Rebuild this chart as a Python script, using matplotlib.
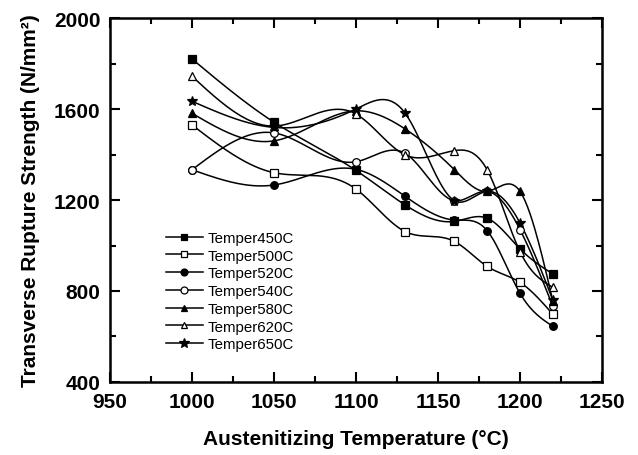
import numpy as np
import matplotlib.pyplot as plt
from matplotlib.ticker import MultipleLocator

plt.rcParams['font.family'] = ['Liberation Sans', 'DejaVu Sans']

temps = [1000, 1050, 1100, 1130, 1160, 1180, 1200, 1220]

t450 = [1820, 1542, 1330, 1178, 1106, 1120, 985, 875]
t500 = [1530, 1320, 1248, 1061, 1018, 908, 838, 698]
t520 = [1333, 1266, 1335, 1216, 1112, 1065, 790, 645]
t540 = [1333, 1495, 1368, 1405, 1197, 1238, 1070, 733]
t580 = [1581, 1460, 1592, 1512, 1333, 1238, 1238, 757]
t620 = [1744, 1525, 1578, 1398, 1417, 1332, 973, 816]
t650 = [1634, 1519, 1600, 1581, 1197, 1238, 1099, 760]

labels = ['Temper450C', 'Temper500C', 'Temper520C', 'Temper540C',
          'Temper580C', 'Temper620C', 'Temper650C']
series = [t450, t500, t520, t540, t580, t620, t650]
markers = ['s', 's', 'o', 'o', '^', '^', '*']
filled = [True, False, True, False, True, False, True]


def natural_spline(x, y, n=300):
    # natural cubic spline through the points, only for drawing the smooth line
    x = np.asarray(x, float)
    y = np.asarray(y, float)
    k = len(x)
    h = np.diff(x)
    A = np.zeros((k, k))
    b = np.zeros(k)
    A[0, 0] = 1
    A[-1, -1] = 1
    for i in range(1, k - 1):
        A[i, i - 1] = h[i - 1]
        A[i, i] = 2 * (h[i - 1] + h[i])
        A[i, i + 1] = h[i]
        b[i] = 6 * ((y[i + 1] - y[i]) / h[i] - (y[i] - y[i - 1]) / h[i - 1])
    M = np.linalg.solve(A, b)
    xs = np.linspace(x[0], x[-1], n)
    idx = np.clip(np.searchsorted(x, xs) - 1, 0, k - 2)
    x0, x1 = x[idx], x[idx + 1]
    hh = x1 - x0
    a = (x1 - xs) / hh
    c = (xs - x0) / hh
    ys = (a * y[idx] + c * y[idx + 1]
          + ((a ** 3 - a) * M[idx] + (c ** 3 - c) * M[idx + 1]) * hh ** 2 / 6)
    return xs, ys


fig = plt.figure(figsize=(6.38, 4.56), dpi=100)
ax = fig.add_axes([0.1724, 0.1601, 0.7712, 0.7982])

for vals, lab, m, f in zip(series, labels, markers, filled):
    xs, ys = natural_spline(temps, vals)
    ax.plot(xs, ys, color='black', lw=1.1)
    ms = 7.5 if m == '*' else 5.5
    ax.plot(temps, vals, linestyle='none', marker=m, ms=ms,
            mfc='black' if f else 'white', mec='black', mew=0.9, zorder=3)
    # legend proxy
    ax.plot([], [], color='black', lw=1.1, marker=m, ms=ms - 0.5,
            mfc='black' if f else 'white', mec='black', mew=0.9, label=lab)

ax.set_xlim(950, 1250)
ax.set_ylim(400, 2000)
ax.xaxis.set_major_locator(MultipleLocator(50))
ax.xaxis.set_minor_locator(MultipleLocator(25))
ax.yaxis.set_major_locator(MultipleLocator(400))
ax.yaxis.set_minor_locator(MultipleLocator(200))
ax.tick_params(which='both', direction='in', top=True, right=True,
               labeltop=False, labelright=False, width=1.5)
ax.tick_params(which='major', length=7, labelsize=15, pad=7)
ax.tick_params(which='minor', length=4)
for lbl in ax.get_xticklabels() + ax.get_yticklabels():
    lbl.set_fontweight('bold')
for sp in ax.spines.values():
    sp.set_linewidth(1.8)

ax.set_xlabel('Austenitizing Temperature (°C)', fontsize=15,
              fontweight='bold', labelpad=13)
ax.set_ylabel('Transverse Rupture Strength (N/mm²)', fontsize=15,
              fontweight='bold', labelpad=10)

ax.legend(loc='upper left', bbox_to_anchor=(0.113, 0.415), frameon=False,
          fontsize=10.8, handlelength=2.5, labelspacing=0.25,
          handletextpad=0.3, borderaxespad=0, borderpad=0)

fig.savefig('out.png', dpi=100)
